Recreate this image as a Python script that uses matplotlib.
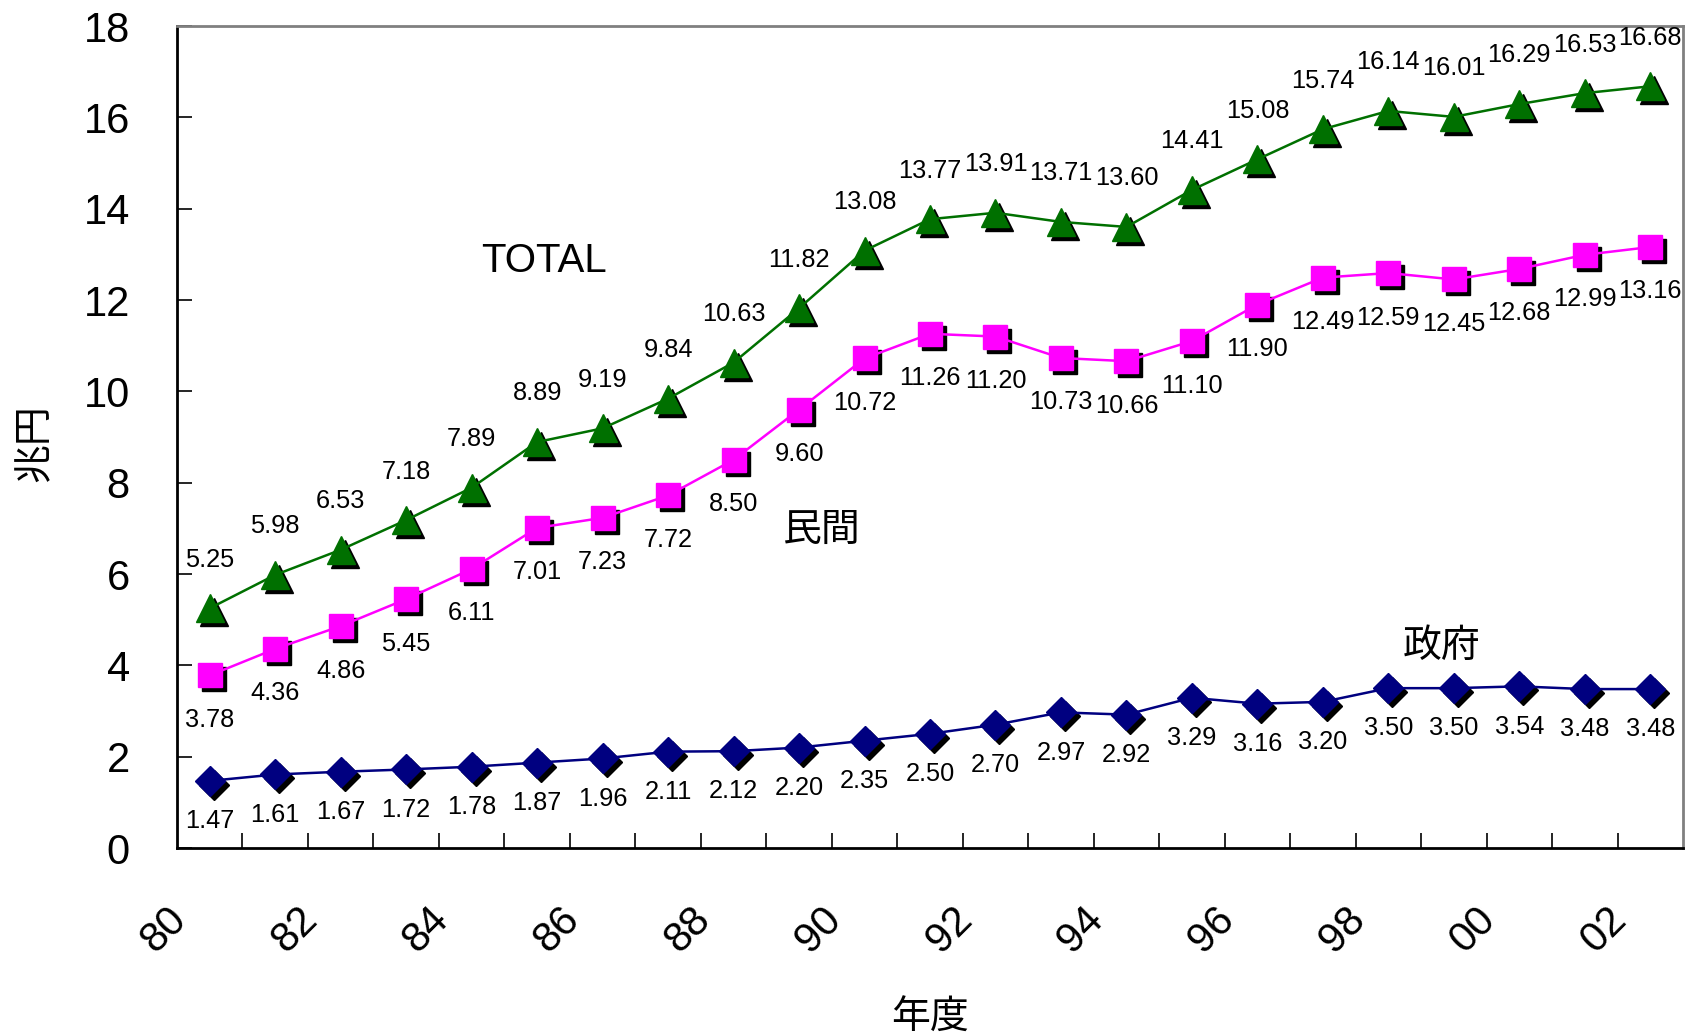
import matplotlib
matplotlib.use("Agg")
import matplotlib.pyplot as plt
from matplotlib.transforms import ScaledTranslation

plt.rcParams['font.family'] = ['Liberation Sans', 'Noto Sans CJK JP', 'DejaVu Sans']

years = list(range(1980, 2003))
year_labels = ["80", "", "82", "", "84", "", "86", "", "88", "", "90", "", "92", "",
               "94", "", "96", "", "98", "", "00", "", "02"]

total = [5.25, 5.98, 6.53, 7.18, 7.89, 8.89, 9.19, 9.84, 10.63, 11.82, 13.08, 13.77,
         13.91, 13.71, 13.60, 14.41, 15.08, 15.74, 16.14, 16.01, 16.29, 16.53, 16.68]
private = [3.78, 4.36, 4.86, 5.45, 6.11, 7.01, 7.23, 7.72, 8.50, 9.60, 10.72, 11.26,
           11.20, 10.73, 10.66, 11.10, 11.90, 12.49, 12.59, 12.45, 12.68, 12.99, 13.16]
govt = [1.47, 1.61, 1.67, 1.72, 1.78, 1.87, 1.96, 2.11, 2.12, 2.20, 2.35, 2.50,
        2.70, 2.97, 2.92, 3.29, 3.16, 3.20, 3.50, 3.50, 3.54, 3.48, 3.48]

fig = plt.figure(figsize=(16.9, 10.34), dpi=100)
ax = fig.add_axes([177/1690, 1 - 848/1034, (1683-177)/1690, (848-26)/1034])

x = list(range(len(years)))
shadow = ax.transData + ScaledTranslation(4/100, -4/100, fig.dpi_scale_trans)

series = [
    (total, "#007000", "^", 19.5, 35),
    (private, "#ff00ff", "s", 17, -32),
    (govt, "#000080", "D", 15, -29),
]
for vals, col, mk, ms, dy in series:
    ax.plot(x, vals, ls="none", marker=mk, ms=ms, color="black", mec="black",
            transform=shadow, zorder=2)
    ax.plot(x, vals, color=col, lw=1.8, marker=mk, ms=ms, mec=col, zorder=3)
    for xi, v in zip(x, vals):
        ax.annotate(f"{v:.2f}", (xi, v), xytext=(0, dy), textcoords="offset points",
                    ha="center", va="center", fontsize=18.3, zorder=4)

ax.text(5.1, 12.85, "TOTAL", fontsize=29, ha="center", va="center")
ax.text(9.35, 6.95, "民間", fontsize=28, ha="center", va="center")
ax.text(18.82, 4.4, "政府", fontsize=28, ha="center", va="center")

ax.set_xlim(-0.5, len(years) - 0.5)
ax.set_ylim(0, 18)
ax.set_yticks(range(0, 19, 2))
ax.tick_params(axis="y", direction="in", length=11, width=1.2, labelsize=30, pad=34)

ax.set_xticks([i + 0.5 for i in range(len(years) - 1)], minor=True)
ax.set_xticks(x)
ax.set_xticklabels(year_labels, rotation=45, ha="center", va="center",
                   rotation_mode="anchor", fontsize=30)
ax.tick_params(axis="x", which="major", length=0, pad=59)
ax.tick_params(axis="x", which="minor", direction="in", length=11, width=1.2)
for lab in ax.get_xticklabels():
    lab.set_transform(lab.get_transform() + ScaledTranslation(-46/100, 0, fig.dpi_scale_trans))

for s in ["left", "bottom"]:
    ax.spines[s].set_linewidth(2)
    ax.spines[s].set_color("black")
for s in ["top", "right"]:
    ax.spines[s].set_linewidth(2)
    ax.spines[s].set_color("#808080")

fig.text(35/1690, 1 - 443/1034, "兆円", rotation=90, fontsize=28, ha="center", va="center")
fig.text(930/1690, 1 - 1019/1034, "年度", fontsize=28, ha="center", va="center")

fig.savefig("out.png", dpi=100)
